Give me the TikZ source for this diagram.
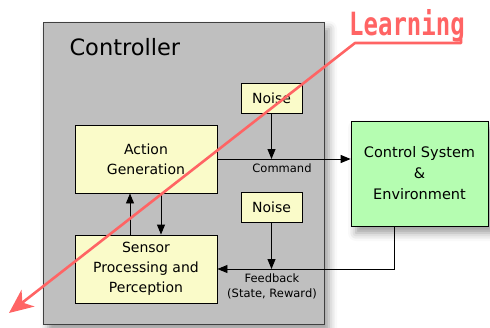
\documentclass[tikz,border=0pt]{standalone}
\usepackage{fontspec}
\usepackage{graphicx}
\setmainfont{DejaVu Sans}
\newfontfamily\markerfont{DejaVu Sans Mono Bold}
\usepackage{xcolor}
\usepackage{tikz}
\usetikzlibrary{arrows.meta,positioning,calc,shadows.blur}
\definecolor{ctlGray}{HTML}{BFBFBF}
\definecolor{ctlBox}{HTML}{FAFBC9}
\definecolor{ctlPlant}{HTML}{B5FDB1}
\definecolor{ctlLearn}{HTML}{FF6464}
\tikzset{
  >={Triangle[length=10pt,width=8pt]},
  softshadow/.style={blur shadow={shadow xshift=5pt, shadow yshift=-7pt,
                     shadow blur radius=8pt, shadow opacity=40}},
  ctlbox/.style={rectangle, draw=black!75, line width=0.9pt, fill=ctlGray,
                 minimum width=281pt, minimum height=302pt, softshadow},
  block/.style={rectangle, draw=black, line width=0.9pt, fill=ctlBox, align=center,
                inner sep=2pt, font=\fontsize{14}{20}\selectfont},
  plant/.style={block, fill=ctlPlant, line width=0.7pt, softshadow,
                font=\fontsize{14.5}{21}\selectfont},
  flow/.style={->, draw=black, line width=0.9pt},
  sig/.style={font=\fontsize{11.5}{15}\selectfont, align=center},
  learnline/.style={-{Stealth[length=24pt,width=21pt,inset=7pt]}, draw=ctlLearn,
                    line width=2.6pt, line join=round},
}
\begin{document}
\begin{tikzpicture}[x=1pt,y=-1pt]
  \useasboundingbox (0,0) rectangle (490,327);

  \node[ctlbox] (ctrl) at (183.5,173) {};
  \node[anchor=base west, font=\fontsize{22.5}{26}\selectfont] (title) at (66,55) {Controller};

  \node[block, minimum width=142pt, minimum height=68pt] (act) at (146,159) {Action\\Generation};
  \node[block, minimum width=142pt, minimum height=68pt] (sense) at (146,269) {Sensor\\Processing and\\Perception};
  \node[block, minimum width=61pt, minimum height=30pt] (noiseA) at (271.5,98) {Noise};
  \node[block, minimum width=61pt, minimum height=30pt] (noiseB) at (271.5,207) {Noise};
  \node[plant, minimum width=137pt, minimum height=105pt] (env) at (419.5,173.5) {Control System\\\&\\Environment};

  % command path
  \draw[flow] (act.east) -- (act.east -| env.west);
  \draw[flow] (noiseA) -- (noiseA |- act.east);
  \node[sig, anchor=north] (cmd) at (282,160) {Command};

  % inner loop
  \draw[flow] ([xshift=-16pt]sense.north) -- ([xshift=-16pt]act.south);
  \draw[flow] ([xshift=15pt]act.south) -- ([xshift=15pt]sense.north);

  % feedback path
  \draw[flow] ([xshift=-25.5pt]env.south) |- (sense.east);
  \draw[flow] (noiseB) -- (noiseB |- sense.east);
  \node[sig, anchor=north] (fb) at (272,270) {Feedback\\(State, Reward)};

  % learning
  \node[anchor=base west, inner sep=0pt, text=ctlLearn, font=\markerfont\fontsize{32}{32}\selectfont]
    (learn) at (349,35) {\scalebox{0.75}[1]{Learning}};
  \coordinate (ulA) at (355,43);
  \coordinate (ulB) at (461,43);
  \coordinate (tip) at (9,313);
  \draw[learnline] ([yshift=4pt]ulB) -- (ulB) -- (ulA) -- (tip);
\end{tikzpicture}
\end{document}
